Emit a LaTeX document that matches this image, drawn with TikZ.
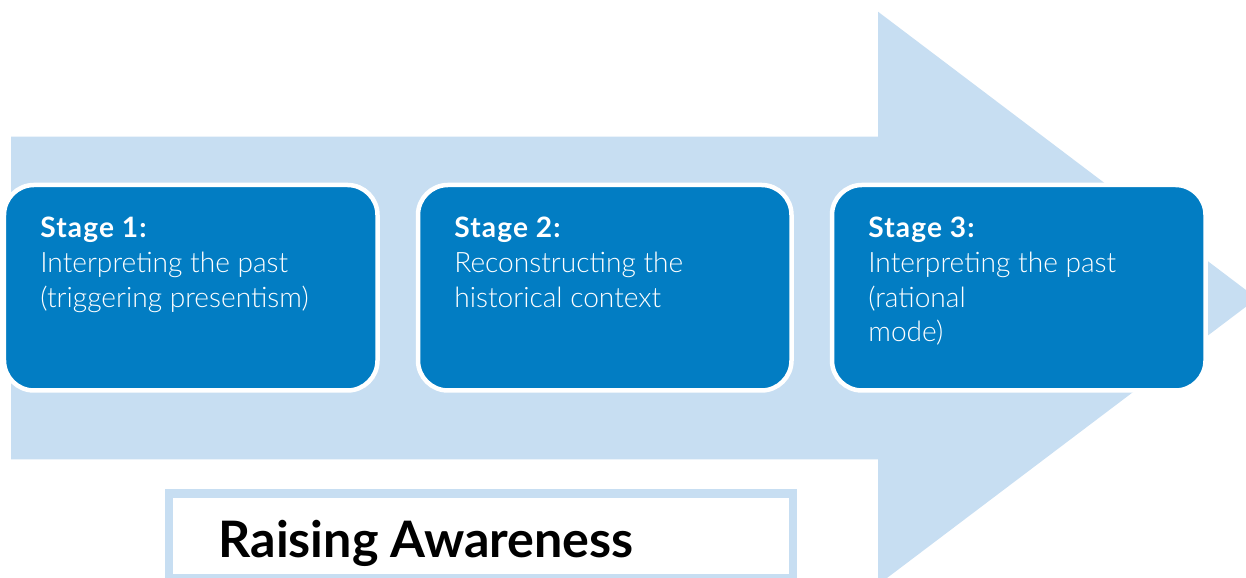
\documentclass[tikz,border=0pt]{standalone}
\usepackage{fontspec}
\setmainfont{Lato}
\newfontfamily\lightfont{Lato Light}
\usetikzlibrary{positioning}
\definecolor{paleblue}{RGB}{199,222,242}
\definecolor{stageblue}{RGB}{2,125,195}
\newcommand{\stagehead}[1]{{\rmfamily\bfseries\addfontfeature{LetterSpace=4}#1}}
\tikzset{
stage/.style = {draw=white, fill=stageblue, line width=0.09cm, rounded corners=0.6cm, minimum width=7.47cm, minimum height=4.11cm, outer sep=0, inner sep=0},
stagetext/.style = {text=white, align=left, inner sep=0, font=\fontsize{16}{19.75}\selectfont\lightfont},
labelframe/.style = {draw=paleblue, fill=white, line width=0.166cm, minimum width=12.476cm, minimum height=1.69cm, outer sep=0, inner sep=0}
}

\begin{document}
\begin{tikzpicture}[node distance=0.81cm]
    \useasboundingbox (0,0) rectangle (24.92,11.56);
    \clip (0,0) rectangle (24.92,11.56);
    % big arrow behind the stages
    \fill [paleblue] (0.22,8.826) -- (17.56,8.826) -- (17.56,11.326) -- (25.14,5.592)
        -- (17.56,-0.136) -- (17.56,2.37) -- (0.22,2.37) -- cycle;

    \node [stage] (s1) at (3.815,5.805) {};
    \node [stage, right=of s1] (s2) {};
    \node [stage, right=of s2] (s3) {};

    \node [stagetext, below right=0.634cm and 0.72cm of s1.north west] (t1)
        {\stagehead{Stage 1:}\\Interpreting the past\\(triggering presentism)};
    \node [stagetext, below right=0.634cm and 0.72cm of s2.north west] (t2)
        {\stagehead{Stage 2:}\\Reconstructing the\\historical context};
    \node [stagetext, below right=0.634cm and 0.72cm of s3.north west] (t3)
        {\stagehead{Stage 3:}\\Interpreting the past\\(rational\\mode)};

    % framed label under the arrow
    \node [labelframe, anchor=south west] (aware) at (3.384,0) {};
    \node [anchor=base west, inner sep=0, font=\fontsize{28.6}{34}\selectfont\bfseries, xshift=0.98cm, yshift=0.414cm] (awaretext) at (aware.south west) {Raising Awareness};
\end{tikzpicture}
\end{document}
